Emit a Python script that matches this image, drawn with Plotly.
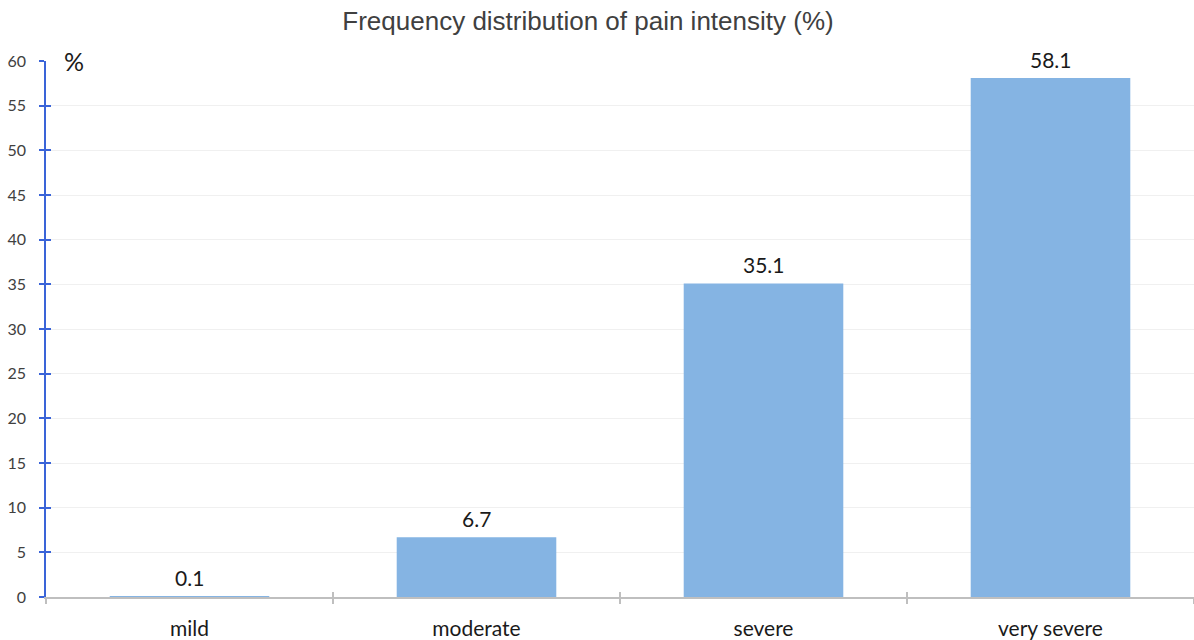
import plotly.graph_objects as go

# Pain intensity categories and their share of respondents (%)
categories = ["mild", "moderate", "severe", "very severe"]
percentages = [0.1, 6.7, 35.1, 58.1]
y_ticks = list(range(0, 61, 5))

BAR_COLOR = "#85b4e3"
TEXT_COLOR = "#404040"
AXIS_BLUE = "#3a64d8"
AXIS_GREY = "#bfbfbf"
LABEL_FONT = "Lato, 'Open Sans', sans-serif"

fig = go.Figure()
fig.add_trace(go.Bar(
    x=categories,
    y=percentages,
    marker=dict(color=BAR_COLOR, line=dict(width=0)),
    width=0.556,
    hoverinfo="x+y",
))

# Value labels just above each bar
for cat, val in zip(categories, percentages):
    fig.add_annotation(
        x=cat, y=val, text=f"{val:g}", showarrow=False,
        yanchor="bottom", yshift=4, xref="x", yref="y",
        font=dict(family=LABEL_FONT, size=21, color="#1a1a1a"),
    )

# Unit label at the top of the value axis
fig.add_annotation(
    x=0.014, y=1.0, xref="paper", yref="paper", text="%", showarrow=False,
    xanchor="left", yanchor="middle",
    font=dict(family=LABEL_FONT, size=25, color="#1a1a1a"),
)

fig.update_layout(
    width=1194, height=640,
    margin=dict(l=46, r=0, t=61, b=43),
    paper_bgcolor="white", plot_bgcolor="white",
    showlegend=False,
    bargap=0.444,
    title=dict(
        text="Frequency distribution of pain intensity (%)",
        x=588 / 1194, xanchor="center", xref="container",
        y=1 - 21 / 640, yanchor="middle", yref="container",
        font=dict(family="'Liberation Sans', Arial, sans-serif", size=26, color=TEXT_COLOR),
    ),
    xaxis=dict(
        type="category", categoryorder="array", categoryarray=categories,
        range=[-0.5, 3.5],
        showline=True, linecolor=AXIS_GREY, linewidth=2,
        ticks="outside", tickson="boundaries", ticklen=5, tickwidth=1.5, tickcolor=AXIS_GREY,
        ticklabelstandoff=12,
        tickfont=dict(family=LABEL_FONT, size=21, color="#1a1a1a"),
        showgrid=False, zeroline=False,
    ),
    xaxis2=dict(
        type="category", categoryorder="array", categoryarray=categories,
        range=[-0.5, 3.5], overlaying="x", matches="x",
        ticks="inside", tickson="boundaries", ticklen=5, tickwidth=1.5, tickcolor=AXIS_GREY,
        showticklabels=False, showline=False, showgrid=False, zeroline=False,
    ),
    yaxis=dict(
        range=[0, 60], tickvals=y_ticks,
        showline=True, linecolor=AXIS_BLUE, linewidth=1.5,
        ticks="outside", ticklen=5, tickwidth=1.5, tickcolor=AXIS_BLUE,
        ticklabelstandoff=10,
        tickfont=dict(family=LABEL_FONT, size=16, color=TEXT_COLOR),
        showgrid=True, gridcolor="#f0f0f0", gridwidth=1, zeroline=False,
    ),
    yaxis2=dict(
        range=[0, 60], tickvals=y_ticks, overlaying="y",
        ticks="inside", ticklen=5, tickwidth=1.5, tickcolor=AXIS_BLUE,
        showticklabels=False, showline=False, showgrid=False, zeroline=False,
    ),
)

# Invisible trace that carries the secondary axes (tick marks inside the frame)
fig.add_trace(go.Scatter(
    x=categories, y=percentages, xaxis="x2", yaxis="y2",
    mode="markers", marker=dict(opacity=0), hoverinfo="skip", showlegend=False,
))

fig.write_html("out.html")
